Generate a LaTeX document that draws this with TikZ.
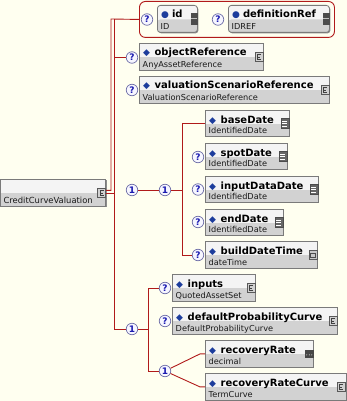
\documentclass[tikz,border=0pt]{standalone}
\usepackage{fontspec}
\setmainfont{DejaVu Sans}
\usetikzlibrary{shadows}
\definecolor{paper}{HTML}{FFFFF0}
\definecolor{wire}{HTML}{B01A1A}
\definecolor{boxln}{HTML}{7A7A7A}
\definecolor{boxtop}{HTML}{F4F4F4}
\definecolor{boxbot}{HTML}{D2D2D2}
\definecolor{dia}{HTML}{1C3C9C}
\definecolor{qline}{HTML}{6E6EA8}
\definecolor{qfill}{HTML}{F6F6FF}
\definecolor{qtext}{HTML}{1A1AB0}
\newcommand\elmark{\textcolor{dia}{\fontsize{9}{9}\selectfont◆}\hspace{4.5pt}}
\newcommand\atmark{\textcolor{dia}{\fontsize{9}{9}\selectfont●}\hspace{3pt}}
\tikzset{
  wire/.style   = {draw=wire, line width=0.9pt},
  elem/.style   = {rectangle, draw=boxln, line width=0.8pt, fill=boxtop, anchor=north west, inner sep=0, minimum height=27pt,
                   drop shadow={shadow xshift=1pt, shadow yshift=-1pt, opacity=1, fill=black!45},
                   path picture={\fill[boxbot] ([yshift=-14pt]path picture bounding box.north west) rectangle (path picture bounding box.south east);}},
  attrib/.style = {elem, rounded corners=3pt},
  agrp/.style   = {rectangle, rounded corners=6pt, draw=wire, line width=0.9pt, anchor=north west, inner sep=0},
  opt/.style    = {circle, draw=qline, fill=qfill, line width=0.7pt, inner sep=0, minimum size=11.5pt, text=qtext, font=\fontsize{9}{9}\selectfont\bfseries},
  comp/.style   = {opt},
  ttl/.style    = {anchor=base west, inner sep=0, font=\fontsize{10}{12}\selectfont\bfseries},
  typ/.style    = {anchor=base west, inner sep=0, text=black!90, font=\fontsize{8.2}{10}\selectfont},
  ctico/.style  = {rectangle, draw=black!65, fill=black!18, line width=0.5pt, minimum width=8pt, minimum height=9pt, inner sep=0,
                   path picture={\draw[black!75, line width=0.6pt]
                     ([shift={(2pt,2.5pt)}]path picture bounding box.center) -- ([shift={(-1.5pt,2.5pt)}]path picture bounding box.center)
                     -- ([shift={(-1.5pt,-2.5pt)}]path picture bounding box.center) -- ([shift={(2pt,-2.5pt)}]path picture bounding box.center)
                     ([shift={(-1.5pt,0pt)}]path picture bounding box.center) -- ([shift={(1pt,0pt)}]path picture bounding box.center);}},
  lsico/.style  = {rectangle, draw=black!70, fill=black!60, line width=0.5pt, minimum width=8pt, minimum height=10pt, inner sep=0,
                   path picture={\foreach \v in {-2.5,0,2.5}
                     \draw[white, line width=0.6pt] ([shift={(-2.5pt,\v pt)}]path picture bounding box.center) -- ([shift={(2.5pt,\v pt)}]path picture bounding box.center);}},
  atico/.style  = {rectangle, fill=black!70, minimum width=7pt, minimum height=12pt, inner sep=0,
                   path picture={\draw[black!25, line width=1.2pt] ([shift={(-3pt,0pt)}]path picture bounding box.center) -- ([shift={(3pt,0pt)}]path picture bounding box.center);}},
  dcico/.style  = {rectangle, fill=black!72, minimum width=9pt, minimum height=8pt, inner sep=0,
                   path picture={\foreach \v in {-2.5,0,2.5}
                     \fill[white] ([shift={(\v pt,-1pt)}]path picture bounding box.center) circle (0.5pt);}},
  dtico/.style  = {rectangle, draw=black!65, fill=black!22, line width=0.5pt, minimum width=8pt, minimum height=9pt, inner sep=0,
                   path picture={\draw[black!70, line width=0.5pt] ([shift={(-2.5pt,-2pt)}]path picture bounding box.center) rectangle ([shift={(2.5pt,1.5pt)}]path picture bounding box.center);}}
}

\begin{document}
\begin{tikzpicture}[x=1pt,y=-1pt]

  \fill[paper] (0,0) rectangle (347,401);
  \useasboundingbox (0,0) rectangle (347,401);

  % ---- root element ----
  \node[elem, minimum width=105pt] (root) at (0.4,179) {}; \node[typ, font=\fontsize{8.4}{10}\selectfont] at ([xshift=3pt,yshift=3pt]root.south west) {CreditCurveValuation};
  \node[ctico] at ([xshift=-4.5pt]root.east) {};

  % ---- attributes (2) ----
  \node[agrp, minimum width=195pt, minimum height=36pt] (attrs) at (139,1) {};
  \node[opt] (idq) at (147,19.5) {?};
  \node[attrib, minimum width=40pt] (id) at (157,5) {}; \node[ttl] at ([xshift=4pt,yshift=-12.5pt]id.north west) {\atmark id}; \node[typ] at ([xshift=3.5pt,yshift=3pt]id.south west) {ID};
  \node[atico] at ([xshift=-3.5pt]id.east) {};
  \node[opt] (drq) at (218,19.5) {?};
  \node[attrib, minimum width=101pt] (defref) at (228,5) {}; \node[ttl] at ([xshift=4pt,yshift=-12.5pt]defref.north west) {\atmark definitionRef}; \node[typ] at ([xshift=3.5pt,yshift=3pt]defref.south west) {IDREF};
  \node[atico] at ([xshift=-3.5pt]defref.east) {};

  % ---- base elements (2) ----
  \node[opt] (oq) at (132,57.5) {?};
  \node[elem, minimum width=124pt] (objref) at (139,43) {}; \node[ttl] at ([xshift=4pt,yshift=-13pt]objref.north west) {\elmark objectReference}; \node[typ] at ([xshift=3.5pt,yshift=3pt]objref.south west) {AnyAssetReference};
  \node[ctico] at ([xshift=-5pt]objref.east) {};
  \node[opt] (vq) at (132,90) {?};
  \node[elem, minimum width=190pt] (valscen) at (139,76) {}; \node[ttl] at ([xshift=4pt,yshift=-13pt]valscen.north west) {\elmark valuationScenarioReference}; \node[typ] at ([xshift=3.5pt,yshift=3pt]valscen.south west) {ValuationScenarioReference};
  \node[ctico] at ([xshift=-5pt]valscen.east) {};

  % ---- dates sequence (5) ----
  \node[comp] (s1) at (132,190) {1};
  \node[comp] (s2) at (165,190) {1};
  \node[elem, minimum width=84pt, minimum height=26pt] (basedate) at (205,110) {}; \node[ttl] at ([xshift=4pt,yshift=-13pt]basedate.north west) {\elmark baseDate}; \node[typ] at ([xshift=3.5pt,yshift=3pt]basedate.south west) {IdentifiedDate};
  \node[lsico] at ([xshift=-5pt]basedate.east) {};
  \node[opt] (sq) at (198,157) {?};
  \node[elem, minimum width=82pt, minimum height=26pt] (spotdate) at (205,143) {}; \node[ttl] at ([xshift=4pt,yshift=-13pt]spotdate.north west) {\elmark spotDate}; \node[typ] at ([xshift=3.5pt,yshift=3pt]spotdate.south west) {IdentifiedDate};
  \node[lsico] at ([xshift=-5pt]spotdate.east) {};
  \node[opt] (iq) at (198,189.5) {?};
  \node[elem, minimum width=113pt, minimum height=26pt] (inputdd) at (205,176) {}; \node[ttl] at ([xshift=4pt,yshift=-13pt]inputdd.north west) {\elmark inputDataDate}; \node[typ] at ([xshift=3.5pt,yshift=3pt]inputdd.south west) {IdentifiedDate};
  \node[lsico] at ([xshift=-5pt]inputdd.east) {};
  \node[opt] (eq) at (198,222) {?};
  \node[elem, minimum width=78pt, minimum height=26pt] (enddate) at (205,209) {}; \node[ttl] at ([xshift=4pt,yshift=-13pt]enddate.north west) {\elmark endDate}; \node[typ] at ([xshift=3.5pt,yshift=3pt]enddate.south west) {IdentifiedDate};
  \node[lsico] at ([xshift=-5pt]enddate.east) {};
  \node[opt] (bq) at (198,255) {?};
  \node[elem, minimum width=112pt] (buildtm) at (205,241) {}; \node[ttl] at ([xshift=4pt,yshift=-13pt]buildtm.north west) {\elmark buildDateTime}; \node[typ] at ([xshift=3.5pt,yshift=3pt]buildtm.south west) {dateTime};
  \node[dtico] at ([xshift=-5pt]buildtm.east) {};

  % ---- curve choice (4) ----
  \node[comp] (c1) at (132,329) {1};
  \node[opt] (inq) at (165,288) {?};
  \node[elem, minimum width=83pt] (inputs) at (172,274) {}; \node[ttl] at ([xshift=4pt,yshift=-13pt]inputs.north west) {\elmark inputs}; \node[typ] at ([xshift=3.5pt,yshift=3pt]inputs.south west) {QuotedAssetSet};
  \node[ctico] at ([xshift=-5pt]inputs.east) {};
  \node[opt] (dq) at (165,321) {?};
  \node[elem, minimum width=165pt] (defprob) at (172,307) {}; \node[ttl] at ([xshift=4pt,yshift=-13pt]defprob.north west) {\elmark defaultProbabilityCurve}; \node[typ] at ([xshift=3.5pt,yshift=3pt]defprob.south west) {DefaultProbabilityCurve};
  \node[ctico] at ([xshift=-5pt]defprob.east) {};
  \node[comp] (c2) at (165,371) {1};
  \node[elem, minimum width=108pt] (recrate) at (205,340) {}; \node[ttl] at ([xshift=4pt,yshift=-13pt]recrate.north west) {\elmark recoveryRate}; \node[typ] at ([xshift=3.5pt,yshift=3pt]recrate.south west) {decimal};
  \node[dcico] at ([xshift=-4.5pt]recrate.east) {};
  \node[elem, minimum width=141pt] (reccurve) at (205,373) {}; \node[ttl] at ([xshift=4pt,yshift=-13pt]reccurve.north west) {\elmark recoveryRateCurve}; \node[typ] at ([xshift=3.5pt,yshift=3pt]reccurve.south west) {TermCurve};
  \node[ctico] at ([xshift=-6pt]reccurve.east) {};

  % ---- connectors ----
  \coordinate (ain)  at (111,19);
  \coordinate (ttop) at (114,19);
  \coordinate (tbot) at (114,329);
  \coordinate (vbot) at (182,255);
  \coordinate (cbot) at (148,371);
  \draw[wire] ([yshift=2.5pt]root.east) -| (ain) -- (attrs.west);
  \draw[wire] ([yshift=-0.8pt]root.east) -| (tbot) -- (c1);
  \draw[wire] (ttop) -- (tbot);
  \draw[wire] (ttop) |- (oq);
  \draw[wire] (s1) -- (s2);
  \draw[wire] (s2) -- (s2 -| vbot);
  \draw[wire] (basedate.west) -| (vbot) -- (bq);
  \draw[wire] (c1) -- (c1 -| cbot);
  \draw[wire] (inq) -| (cbot) -- (c2);
  \draw[wire] (c2) -- ([xshift=-5pt]recrate.west) -- (recrate.west);
  \draw[wire] (c2) -- ([xshift=-5pt]reccurve.west) -- (reccurve.west);

\end{tikzpicture}
\end{document}
